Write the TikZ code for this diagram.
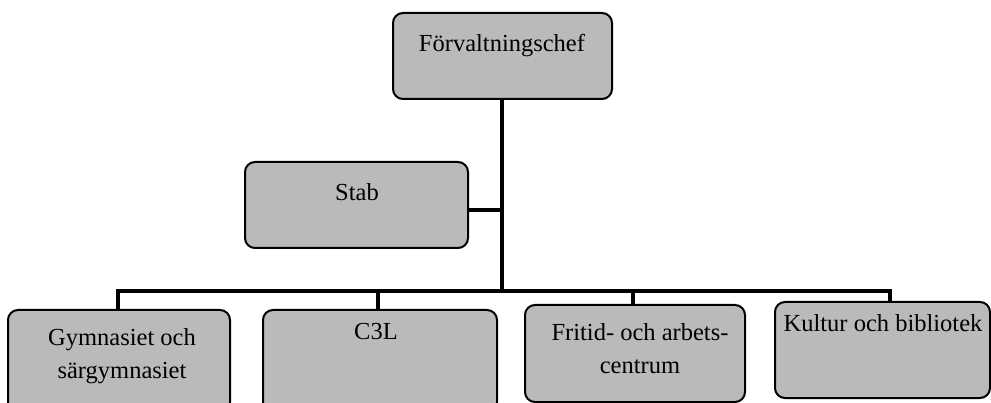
\documentclass[tikz,border=0pt]{standalone}
\usepackage{fontspec}
\setmainfont{Liberation Serif}
\begin{document}
\begin{tikzpicture}[x=1pt,y=-1pt,
  box/.style={draw=black,line width=2pt,rounded corners=10pt,fill=black!27},
  lbl/.style={font=\fontsize{24.5}{33}\selectfont,align=center,inner sep=0pt},
  conn/.style={line width=4pt}]
\useasboundingbox (0,0) rectangle (991,403);
% boxes
\draw[box] (393,13) rectangle (612,99);
\draw[box] (245,162) rectangle (468,248);
\draw[box] (8,310) rectangle (230,412);
\draw[box] (263,310) rectangle (497,412);
\draw[box] (525,305) rectangle (745,402);
\draw[box] (775,302) rectangle (990,398);
% anchor coordinates
\coordinate (topb) at (502,99);
\coordinate (stabr) at (468,210);
\coordinate (trunkS) at (502,210);
\coordinate (bus) at (502,291);
\coordinate (busL) at (118,291);
\coordinate (busR) at (890,291);
\coordinate (b1) at (118,310);
\coordinate (b2) at (378,310);
\coordinate (b3) at (633,305);
\coordinate (b4) at (890,302);
\coordinate (d2) at (378,291);
\coordinate (d3) at (633,291);
% labels
\node[lbl] (fc) at (502,46) {Förvaltningschef};
\node[lbl] (stab) at (357,192) {Stab};
\node[lbl] (gym) at (122,356) {Gymnasiet och\\särgymnasiet};
\node[lbl] (c3l) at (376,332) {C3L};
\node[lbl] (fri) at (640,349) {Fritid- och arbets-\\centrum};
\node[lbl] (kul) at (883,323) {Kultur och bibliotek};
% connectors
\draw[conn] (topb) -- (bus);
\draw[conn] (stabr) -- (trunkS);
\draw[conn,line join=miter] (b1) -- (busL) -- (busR) -- (b4);
\draw[conn] (d2) -- (b2);
\draw[conn] (d3) -- (b3);
\end{tikzpicture}
\end{document}
